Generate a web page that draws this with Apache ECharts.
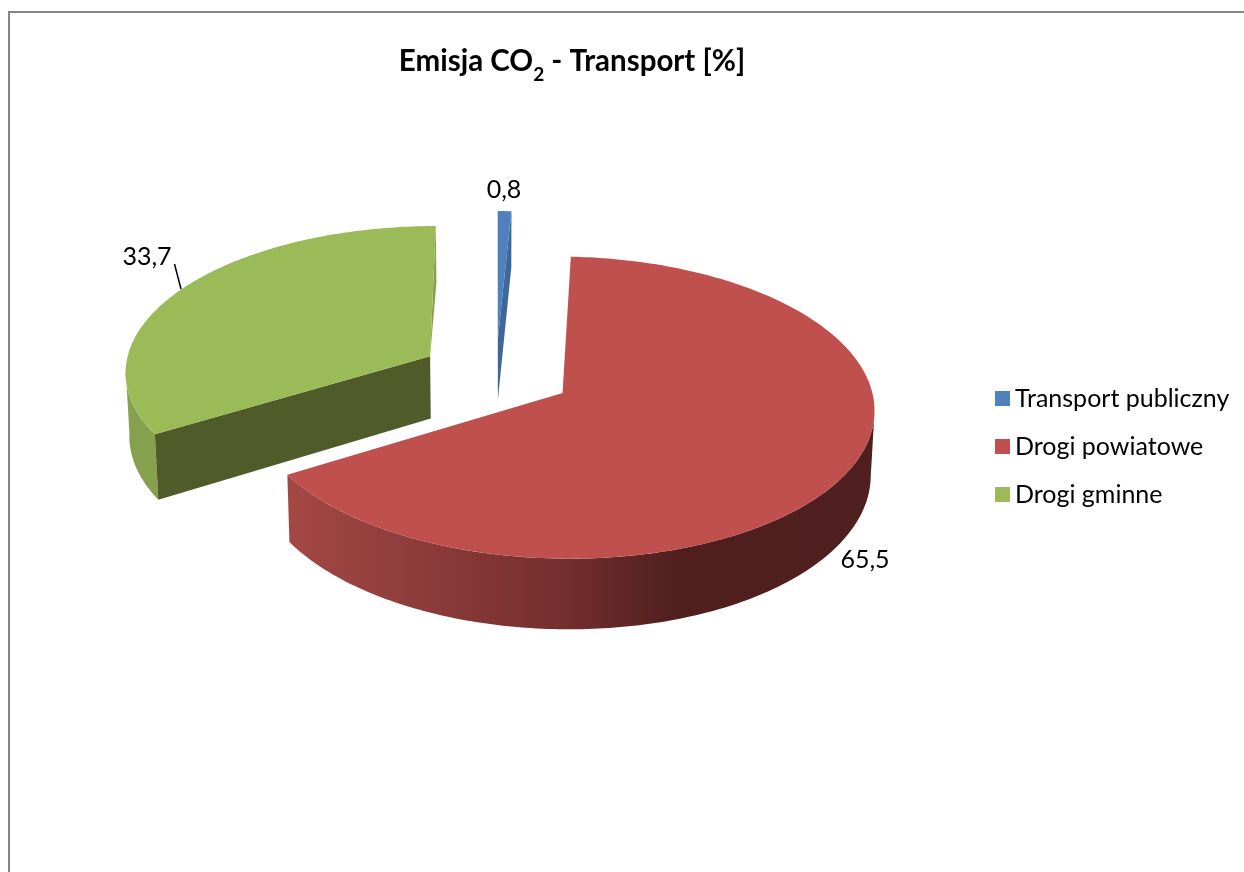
<!DOCTYPE html>
<html><head><meta charset="utf-8">
<style>html,body{margin:0;padding:0;background:#fff}#c{width:1244px;height:872px}</style>
<script src="https://cdn.jsdelivr.net/npm/echarts@6/dist/echarts.min.js"></script>
</head><body><div id="c"></div>
<script>
var categories = ['Transport publiczny', 'Drogi powiatowe', 'Drogi gminne'];
var values = [0.8, 65.5, 33.7];
var colors = ['#4f81bd', '#c0504d', '#9bbb59'];
var wallColors = ['#3f6797', '#8f3d3a', '#87a04d'];
var cutColors = ['#3f6797', '#5a1f1e', '#4f5b28'];

// perspective model of the exploded disc
var CX = 496, CY = 374, RX = 306, RY = 146, K = 0.096, DEPTH = 63, EXPLODE = 0.25, BOTTOM_X = 0.99;
var total = values.reduce(function (a, b) { return a + b; }, 0);

function bounds(i) {
  var before = 0;
  for (var j = 0; j < i; j++) before += values[j];
  return [before / total * 2 * Math.PI, (before + values[i]) / total * 2 * Math.PI];
}
function offset(i) {
  var b = bounds(i), m = (b[0] + b[1]) / 2;
  return [Math.sin(m) * EXPLODE, -Math.cos(m) * EXPLODE];
}
// r = 1 on the rim, r = 0 at the apex; h = 0 top face, h = 1 bottom face
function proj(i, a, h, r) {
  var o = offset(i), rr = r === undefined ? 1 : r;
  var c = rr * Math.sin(a) + o[0], s = -rr * Math.cos(a) + o[1], d = 1 - K * s;
  var x = RX * c / d, y = RY * s / d;
  return [CX + x * (h ? BOTTOM_X : 1), CY + y + h * DEPTH / d];
}
function arc(i, a0, a1, h) {
  var pts = [], n = Math.max(2, Math.ceil(Math.abs(a1 - a0) * 60));
  for (var j = 0; j <= n; j++) pts.push(proj(i, a0 + (a1 - a0) * j / n, h));
  return pts;
}
function poly(points, fill, z) {
  return { type: 'polygon', z2: z, shape: { points: points }, style: { fill: fill } };
}
function sliceItem(i) {
  return function (params, api) {
    var b = bounds(i), a0 = b[0], a1 = b[1], kids = [];
    var ap = proj(i, 0, 0, 0), apLow = proj(i, 0, 1, 0);
    if (i === 0) {
      var r0 = proj(i, a0, 0), r1 = proj(i, a1, 0), r0L = proj(i, a0, 1), r1L = proj(i, a1, 1);
      kids.push(poly([ap, r0, r0L, apLow], colors[0], 1));
      kids.push(poly([ap, r1, r1L, apLow], cutColors[0], 2));
      kids.push(poly([ap].concat(arc(i, a0, a1, 0)), colors[0], 3));
    }
    if (i === 1) {
      var stop = Math.PI * 0.54;
      var wall = arc(i, a1, stop, 0).concat(arc(i, stop, a1, 1));
      kids.push({ type: 'polygon', z2: 1, shape: { points: wall }, style: { fill: new echarts.graphic.LinearGradient(0, 0, 1, 0, [
        { offset: 0, color: '#a44845' }, { offset: 0.46, color: '#752f2e' }, { offset: 0.67, color: '#4f1f1e' }, { offset: 1, color: '#4f201f' }
      ]) } });
      kids.push(poly([ap].concat(arc(i, a0, a1, 0)), colors[1], 2));
    }
    if (i === 2) {
      var corner = proj(i, a0, 0), cornerLow = proj(i, a0, 1);
      var stopL = Math.PI * 1.47;
      kids.push(poly(arc(i, a0, stopL, 0).concat(arc(i, stopL, a0, 1)), wallColors[2], 1));
      kids.push(poly([ap, corner, cornerLow, apLow], cutColors[2], 2));
      kids.push(poly([ap, proj(i, a1, 0), proj(i, a1, 1)], wallColors[2], 1));
      kids.push(poly([ap].concat(arc(i, a0, a1, 0)), colors[2], 3));
    }
    return { type: 'group', children: kids };
  };
}

var labelPos = [[504, 190], [865, 560], [147, 257]];
var series = categories.map(function (name, i) {
  return {
    name: name, type: 'custom', coordinateSystem: 'none', silent: true, animation: false, z: i === 1 ? 3 : 2,
    itemStyle: { color: colors[i] },
    renderItem: sliceItem(i),
    data: [values[i]]
  };
});

var chart = echarts.init(document.getElementById('c'), null, { renderer: 'canvas' });
var FONT = 'Lato, "Open Sans", sans-serif';
chart.setOption({
  animation: false,
  backgroundColor: '#ffffff',
  title: {
    left: 572, top: 39, textAlign: 'center', padding: 0,
    text: '{b|Emisja CO}{s|2}{b| - Transport [%]}',
    textStyle: { rich: {
      b: { fontFamily: FONT, fontSize: 29.5, fontWeight: 'bold', color: '#000', lineHeight: 36 },
      s: { fontFamily: FONT, fontSize: 19, fontWeight: 'bold', color: '#000', verticalAlign: 'bottom', padding: [26, 0, 0, 0] }
    } }
  },
  legend: {
    orient: 'vertical', left: 995, top: 386, padding: 0, itemWidth: 15, itemHeight: 15, itemGap: 23, icon: 'rect',
    data: categories, selectedMode: false,
    textStyle: { fontFamily: FONT, fontSize: 25, color: '#000' }
  },
  graphic: [
    { type: 'polyline', z: -1, shape: { points: [[9, 872], [9, 12], [1244, 12]] }, style: { stroke: '#868686', lineWidth: 2, fill: null } },
    { type: 'line', shape: { x1: 174.5, y1: 264, x2: 181, y2: 289 }, style: { stroke: '#000', lineWidth: 1.5 } }
  ].concat(values.map(function (v, i) {
    return { type: 'text', z: 20, x: labelPos[i][0], y: labelPos[i][1], style: {
      text: String(v).replace('.', ','), fontFamily: FONT, fontSize: 25, fill: '#000', align: 'center', verticalAlign: 'middle' } };
  })),
  series: series
});
</script></body></html>
